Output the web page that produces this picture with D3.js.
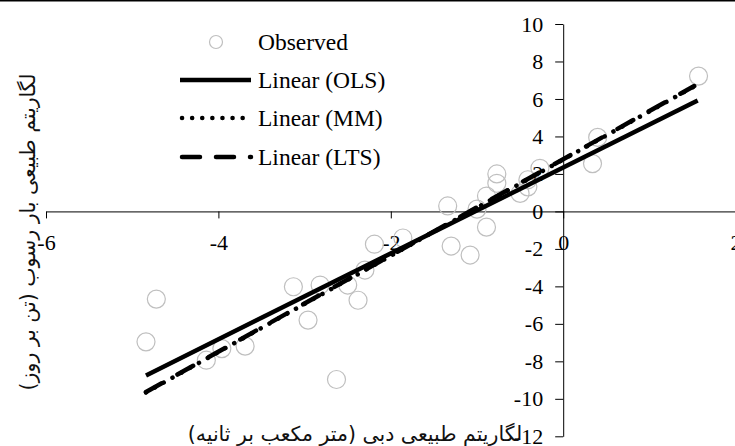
<!DOCTYPE html>
<html>
<head>
<meta charset="utf-8">
<script src="https://cdn.jsdelivr.net/npm/d3@7/dist/d3.min.js"></script>
<style>
  body { margin: 0; background: #fff; }
  svg { display: block; }
  .axis text { font-family: "Liberation Serif", serif; font-size: 22px; fill: #000; }
  .axis path, .axis line { stroke: #000; stroke-width: 1; }
  .title { font-family: "DejaVu Sans", sans-serif; font-size: 20.5px; fill: #111; }
  .legend text { font-family: "Liberation Serif", serif; font-size: 23.5px; fill: #000; }
</style>
</head>
<body>
<script>
// observed points (ln Q, ln sediment load)
var obsX = [1.57, 0.40, 0.34, -0.27, -0.41, -0.41, -0.50, -0.77, -0.77, -0.89,
            -1.00, -1.34, -0.89, -1.30, -1.08, -1.86, -2.19, -2.30, -2.50, -2.38,
            -2.82, -3.13, -2.96, -3.69, -3.96, -4.14, -4.72, -4.84, -2.63];
var obsY = [7.22, 3.95, 2.55, 2.30, 1.69, 1.31, 0.96, 2.00, 1.50, 0.82,
            0.12, 0.29, -0.84, -1.85, -2.33, -1.42, -1.75, -3.13, -3.93, -4.74,
            -3.93, -4.02, -5.80, -7.19, -7.32, -7.94, -4.68, -6.96, -8.97];

// fitted lines, endpoints [x, y]
var olsLine = [[-4.84, -8.75], [1.56, 5.92]];
var mmLine  = [[-4.84, -9.66], [1.52, 6.67]];
var ltsLine = [[-4.84, -9.64], [1.52, 6.69]];

var xTicks = [-6, -4, -2, 0, 2];
var yTicks = [-12, -10, -8, -6, -4, -2, 0, 2, 4, 6, 8, 10];

var legendLabels = ["Observed", "Linear (OLS)", "Linear (MM)", "Linear (LTS)"];
var xTitle = "لگاریتم طبیعی دبی (متر مکعب بر ثانیه)";
var yTitle = "لگاریتم طبیعی بار رسوب (تن بر روز)";

var width = 735, height = 446;

var x = d3.scaleLinear().domain([-6, 2]).range([46, 735.6]);
var y = d3.scaleLinear().domain([-12, 10]).range([436.3, 24]);

var svg = d3.select("body").append("svg")
    .attr("width", width)
    .attr("height", height);

// thin frame line along the top edge
svg.append("line")
    .attr("x1", 0).attr("x2", width)
    .attr("y1", 0.75).attr("y2", 0.75)
    .attr("stroke", "#000").attr("stroke-width", 1.5);

// axes cross at the origin
svg.append("g")
    .attr("class", "axis")
    .attr("transform", "translate(0," + y(0) + ")")
    .call(d3.axisBottom(x).tickValues(xTicks).tickSize(7).tickSizeOuter(0)
          .tickPadding(16).tickFormat(function(d) { return String(d); }));

svg.append("g")
    .attr("class", "axis")
    .attr("transform", "translate(" + x(0) + ",0)")
    .call(d3.axisLeft(y).tickValues(yTicks).tickSize(8).tickSizeOuter(0)
          .tickPadding(12).tickFormat(function(d) { return String(d); }));

// observed points
var pts = d3.zip(obsX, obsY);
svg.append("g").selectAll("circle")
    .data(pts)
    .enter().append("circle")
    .attr("cx", function(d) { return x(d[0]); })
    .attr("cy", function(d) { return y(d[1]); })
    .attr("r", 9)
    .attr("fill", "none")
    .attr("stroke", "#bfbfbf")
    .attr("stroke-width", 1.2);

var line = d3.line()
    .x(function(d) { return x(d[0]); })
    .y(function(d) { return y(d[1]); });

var styles = [
    {data: olsLine, dash: null, cap: "butt"},
    {data: ltsLine, dash: "18,18", cap: "round"},
    {data: mmLine, dash: "0.1,10", cap: "round"}
];
styles.forEach(function(s) {
    svg.append("path")
        .datum(s.data)
        .attr("fill", "none")
        .attr("stroke", "#000")
        .attr("stroke-width", 4.5)
        .attr("stroke-linecap", s.cap)
        .attr("stroke-dasharray", s.dash)
        .attr("d", line);
});

// legend
var legend = svg.append("g").attr("class", "legend");
var rowY = [42, 80, 118, 157];
legend.append("circle")
    .attr("cx", 216).attr("cy", rowY[0]).attr("r", 6.5)
    .attr("fill", "none").attr("stroke", "#bfbfbf").attr("stroke-width", 1.2);
[null, "0.1,10", "18,16"].forEach(function(dash, i) {
    legend.append("line")
        .attr("x1", i == 0 ? 180 : 182).attr("x2", 251)
        .attr("y1", rowY[i + 1]).attr("y2", rowY[i + 1])
        .attr("stroke", "#000").attr("stroke-width", 4.5)
        .attr("stroke-linecap", dash ? "round" : "butt")
        .attr("stroke-dasharray", dash);
});
legend.selectAll("text")
    .data(legendLabels)
    .enter().append("text")
    .attr("x", 258)
    .attr("y", function(d, i) { return rowY[i]; })
    .attr("dy", "0.32em")
    .text(function(d) { return d; });

// axis titles
svg.append("text")
    .attr("class", "title")
    .attr("x", 355).attr("y", 441)
    .attr("text-anchor", "middle")
    .style("direction", "rtl")
    .text(xTitle);

svg.append("text")
    .attr("class", "title")
    .attr("transform", "translate(35,232) rotate(-90)")
    .attr("text-anchor", "middle")
    .style("direction", "rtl")
    .text(yTitle);
</script>
</body>
</html>
